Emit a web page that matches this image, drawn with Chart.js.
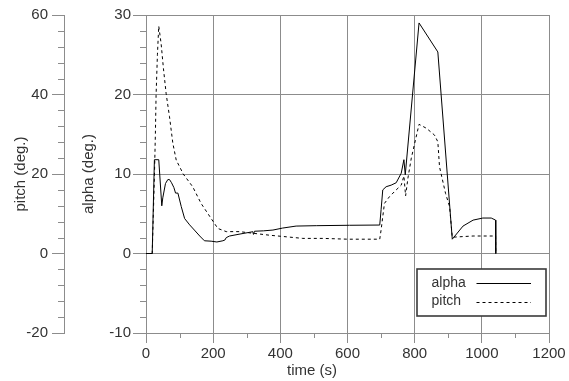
<!DOCTYPE html>
<html>
<head>
<meta charset="utf-8">
<script src="https://cdn.jsdelivr.net/npm/chart.js@4.4.1/dist/chart.umd.min.js"></script>
<style>
  html, body { margin: 0; padding: 0; background: #ffffff; }
  canvas { display: block; }
</style>
</head>
<body>
<canvas id="c" width="569" height="381"></canvas>
<script>
// ---- data ----
const alphaTime = [0, 18.5, 25, 38, 47, 50, 58, 65, 70, 76, 83, 88, 95, 105, 115, 130, 144, 160, 174, 194, 211, 229, 235, 239, 249, 280, 313, 318, 320, 323, 350, 378, 407, 447, 507, 606, 696, 700, 705, 715, 730, 745, 760, 768, 772, 813, 869, 912, 944, 974, 1003, 1028, 1041, 1041.5];
const alphaDeg  = [0, 0, 11.8, 11.8, 6.0, 7.0, 8.8, 9.3, 9.3, 8.9, 8.3, 7.6, 7.6, 5.9, 4.4, 3.6, 2.95, 2.2, 1.6, 1.55, 1.45, 1.6, 1.7, 2.0, 2.2, 2.45, 2.7, 2.75, 2.4, 2.8, 2.85, 2.95, 3.2, 3.45, 3.5, 3.55, 3.58, 5.5, 8.0, 8.4, 8.6, 8.9, 10.1, 11.8, 9.9, 29.0, 25.35, 1.8, 3.45, 4.2, 4.46, 4.46, 4.2, 0];

const pitchTime = [0, 18.5, 25, 28, 30, 34, 38, 45, 52, 60, 70, 80, 90, 105, 110, 139, 164, 194, 214, 239, 278, 318, 368, 418, 467, 527, 600, 696, 700, 710, 725, 745, 760, 768, 773, 780, 790, 800, 813, 835, 859, 869, 874, 892, 904, 912, 974, 1041, 1041.5];
const pitchDeg  = [0, 0, 19.3, 30.2, 39.8, 50, 57.2, 52.8, 46.5, 40.2, 34.4, 27.7, 23.5, 21.0, 20.1, 16.8, 12.6, 8.8, 6.3, 5.5, 5.5, 5.1, 4.6, 4.2, 3.8, 3.8, 3.6, 3.6, 5.9, 12.6, 14.3, 16.0, 17.2, 19.5, 14.5, 19, 24, 27.7, 32.5, 31.5, 29.8, 28.1, 21.8, 15.1, 11.8, 4.1, 4.4, 4.4, 0];

const xTickValues = [0, 200, 400, 600, 800, 1000, 1200];
const alphaTickValues = [-10, 0, 10, 20, 30];
const pitchTickValues = [-20, 0, 20, 40, 60];
const seriesNames = ['alpha', 'pitch'];
const xTitle = 'time (s)';
const alphaTitle = 'alpha (deg.)';
const pitchTitle = 'pitch (deg.)';

// ---- styles ----
const GRID = '#8c8c8c';
const TEXT = '#333333';
const FONT = 'Liberation Sans, Arial, Helvetica, sans-serif';

function pts(xs, ys) { return xs.map((x, i) => ({ x: x, y: ys[i] })); }
const plain = (v) => String(v);

const minorTicks = {
  id: 'minorTicks',
  afterDraw(chart) {
    const ctx = chart.ctx;
    const ys = chart.scales.y, ps = chart.scales.y2, xs = chart.scales.x;
    ctx.save();
    ctx.strokeStyle = GRID;
    ctx.lineWidth = 1;
    ctx.beginPath();
    for (let v = ys.min; v <= ys.max; v += 2) {
      if (v % 10 === 0) continue;
      const p = Math.round(ys.getPixelForValue(v)) + 0.5;
      ctx.moveTo(ys.right - 6, p); ctx.lineTo(ys.right, p);
    }
    for (let v = ps.min; v <= ps.max; v += 4) {
      if (v % 20 === 0) continue;
      const p = Math.round(ps.getPixelForValue(v)) + 0.5;
      ctx.moveTo(ps.right - 6, p); ctx.lineTo(ps.right, p);
    }
    for (let v = xs.min + 100; v < xs.max; v += 200) {
      const p = Math.round(xs.getPixelForValue(v)) + 0.5;
      ctx.moveTo(p, xs.top); ctx.lineTo(p, xs.top + 5);
    }
    ctx.stroke();

    // x axis title
    ctx.fillStyle = TEXT;
    ctx.font = '15px ' + FONT;
    ctx.textAlign = 'center';
    ctx.textBaseline = 'middle';
    ctx.fillText(xTitle, 312, 370.5);

    // legend box
    const bx = 417, by = 269, bw = 129, bh = 47;
    ctx.fillStyle = '#ffffff';
    ctx.fillRect(bx, by, bw, bh);
    ctx.strokeStyle = '#3a3a3a';
    ctx.lineWidth = 1.6;
    ctx.strokeRect(bx, by, bw, bh);
    ctx.font = '14px ' + FONT;
    ctx.textAlign = 'left';
    chart.data.datasets.forEach((ds, i) => {
      const cy = 283 + i * 18.5;
      ctx.fillStyle = TEXT;
      ctx.fillText(ds.label, 431.5, cy);
      ctx.beginPath();
      ctx.strokeStyle = ds.borderColor;
      ctx.lineWidth = 1;
      ctx.setLineDash(ds.borderDash || []);
      ctx.moveTo(476.5, Math.round(cy) + 0.5);
      ctx.lineTo(531, Math.round(cy) + 0.5);
      ctx.stroke();
      ctx.setLineDash([]);
    });
    ctx.restore();
  }
};

new Chart(document.getElementById('c'), {
  type: 'line',
  data: {
    datasets: [
      {
        label: seriesNames[0],
        data: pts(alphaTime, alphaDeg),
        yAxisID: 'y',
        borderColor: '#000000',
        borderWidth: 1,
        pointRadius: 0,
        tension: 0,
        fill: false
      },
      {
        label: seriesNames[1],
        data: pts(pitchTime, pitchDeg),
        yAxisID: 'y2',
        borderColor: '#000000',
        borderWidth: 1,
        borderDash: [3, 3],
        pointRadius: 0,
        tension: 0,
        fill: false
      }
    ]
  },
  options: {
    responsive: false,
    animation: false,
    devicePixelRatio: 1,
    layout: { padding: { left: 0, top: 15, right: 20, bottom: 0 } },
    plugins: { legend: { display: false }, tooltip: { enabled: false } },
    scales: {
      x: {
        type: 'linear',
        min: 0, max: 1200,
        afterBuildTicks: (s) => { s.ticks = xTickValues.map(v => ({ value: v })); },
        ticks: { color: TEXT, font: { family: FONT, size: 15 }, padding: 2, maxRotation: 0, callback: plain },
        grid: { color: GRID, tickLength: 10, lineWidth: 1 },
        border: { color: GRID },
        afterFit: (s) => { s.height = 48; }
      },
      y: {
        type: 'linear',
        position: 'left',
        weight: 0,
        min: -10, max: 30,
        afterBuildTicks: (s) => { s.ticks = alphaTickValues.map(v => ({ value: v })); },
        ticks: { color: TEXT, font: { family: FONT, size: 15 }, padding: 2, callback: plain },
        grid: { color: GRID, tickLength: 13, lineWidth: 1 },
        border: { color: GRID },
        title: { display: true, text: alphaTitle, color: TEXT, font: { family: FONT, size: 15 }, padding: { top: 16, bottom: 0 } },
        afterFit: (s) => { s.width = 82; }
      },
      y2: {
        type: 'linear',
        position: 'left',
        weight: 1,
        min: -20, max: 60,
        afterBuildTicks: (s) => { s.ticks = pitchTickValues.map(v => ({ value: v })); },
        ticks: { color: TEXT, font: { family: FONT, size: 15 }, padding: 4, callback: plain },
        grid: { color: GRID, tickLength: 12, lineWidth: 1, drawOnChartArea: false },
        border: { color: GRID },
        title: { display: true, text: pitchTitle, color: TEXT, font: { family: FONT, size: 15 }, padding: { top: 11.5, bottom: 0 } },
        afterFit: (s) => { s.width = 64; }
      }
    }
  },
  plugins: [minorTicks]
});
</script>
</body>
</html>
